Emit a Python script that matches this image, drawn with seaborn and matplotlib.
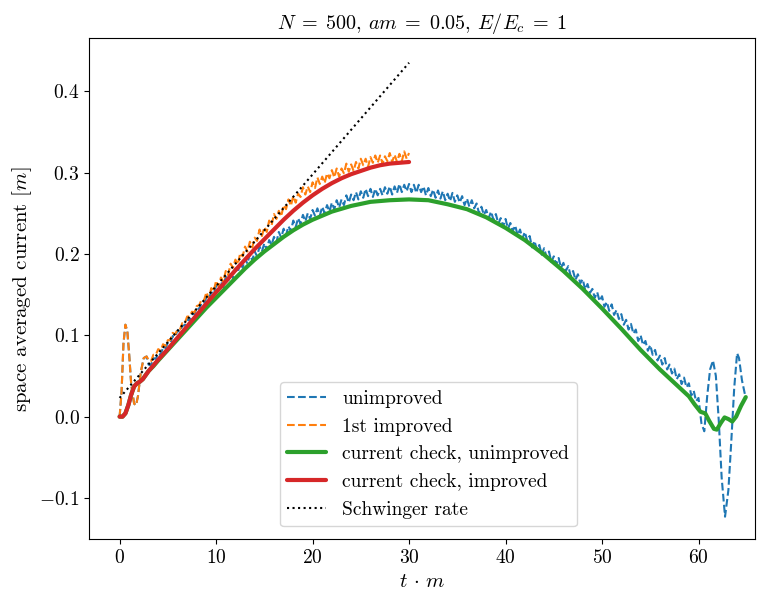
import numpy as np
import matplotlib
matplotlib.use("Agg")
import matplotlib.pyplot as plt
import seaborn as sns

# ---------------- data ----------------
# early transient (shared by the two dashed series)
t_early = [0.0, 0.2, 0.4, 0.6, 0.8, 1.0, 1.2, 1.5, 1.7, 1.9, 2.2, 2.5, 2.8]
y_early = [0.000, 0.030, 0.090, 0.113, 0.105, 0.075, 0.040, 0.016, 0.014, 0.025, 0.055, 0.072, 0.074]

# unimproved (blue dashed), t = 3.0 ... 60.0 step 0.25 (8 values = 2 time units per row)
t_unimp_mid = list(np.arange(3.0, 60.001, 0.25))
y_unimp_mid = [
    0.064, 0.063, 0.072, 0.071, 0.078, 0.076, 0.085, 0.084,
    0.091, 0.090, 0.099, 0.098, 0.106, 0.104, 0.112, 0.112,
    0.120, 0.118, 0.126, 0.126, 0.134, 0.132, 0.140, 0.139,
    0.147, 0.145, 0.153, 0.151, 0.161, 0.155, 0.166, 0.159,
    0.172, 0.166, 0.178, 0.170, 0.182, 0.177, 0.190, 0.183,
    0.194, 0.188, 0.200, 0.192, 0.203, 0.197, 0.209, 0.203,
    0.213, 0.205, 0.217, 0.211, 0.221, 0.214, 0.227, 0.220,
    0.231, 0.223, 0.234, 0.228, 0.241, 0.233, 0.244, 0.237,
    0.248, 0.240, 0.250, 0.243, 0.254, 0.247, 0.256, 0.247,
    0.258, 0.250, 0.260, 0.252, 0.263, 0.255, 0.266, 0.257,
    0.267, 0.260, 0.272, 0.263, 0.273, 0.266, 0.276, 0.267,
    0.277, 0.269, 0.280, 0.271, 0.280, 0.270, 0.280, 0.272,
    0.280, 0.272, 0.282, 0.274, 0.283, 0.273, 0.283, 0.275,
    0.286, 0.276, 0.285, 0.277, 0.286, 0.276, 0.285, 0.275,
    0.285, 0.276, 0.283, 0.272, 0.281, 0.271, 0.279, 0.269,
    0.278, 0.268, 0.277, 0.266, 0.274, 0.265, 0.275, 0.264,
    0.272, 0.263, 0.271, 0.260, 0.268, 0.258, 0.266, 0.256,
    0.262, 0.250, 0.258, 0.248, 0.254, 0.244, 0.252, 0.242,
    0.249, 0.237, 0.244, 0.234, 0.243, 0.231, 0.238, 0.228,
    0.235, 0.223, 0.230, 0.219, 0.227, 0.216, 0.222, 0.208,
    0.216, 0.205, 0.211, 0.199, 0.207, 0.196, 0.203, 0.190,
    0.197, 0.187, 0.195, 0.183, 0.189, 0.179, 0.185, 0.173,
    0.179, 0.168, 0.175, 0.164, 0.169, 0.156, 0.163, 0.152,
    0.157, 0.146, 0.153, 0.142, 0.148, 0.135, 0.141, 0.130,
    0.138, 0.125, 0.131, 0.120, 0.126, 0.113, 0.119, 0.107,
    0.114, 0.102, 0.107, 0.093, 0.100, 0.088, 0.093, 0.081,
    0.088, 0.076, 0.082, 0.069, 0.075, 0.064, 0.072, 0.058,
    0.064, 0.053, 0.059, 0.046, 0.052, 0.040, 0.048, 0.036,
    0.041, 0.026, 0.032, 0.019, 0.023,
]
t_unimp_tail = [60.3, 60.6, 60.9, 61.2, 61.5, 61.8, 62.1, 62.4, 62.75, 63.1,
                63.4, 63.7, 64.0, 64.2, 64.5, 64.8]
y_unimp_tail = [-0.008, -0.018, 0.025, 0.058, 0.069, 0.050, -0.005, -0.075, -0.123, -0.090,
                -0.030, 0.035, 0.078, 0.072, 0.045, 0.028]

# 1st improved (orange dashed), t = 3.0 ... 30.0 step 0.25
t_imp_mid = list(np.arange(3.0, 30.001, 0.25))
y_imp_mid = [
    0.070, 0.068, 0.076, 0.076, 0.083, 0.081, 0.089, 0.087,
    0.094, 0.094, 0.103, 0.101, 0.107, 0.107, 0.115, 0.115,
    0.123, 0.123, 0.129, 0.128, 0.136, 0.137, 0.144, 0.143,
    0.153, 0.145, 0.158, 0.154, 0.167, 0.160, 0.171, 0.166,
    0.179, 0.174, 0.188, 0.183, 0.193, 0.187, 0.201, 0.197,
    0.209, 0.203, 0.215, 0.208, 0.220, 0.216, 0.230, 0.222,
    0.233, 0.227, 0.241, 0.235, 0.249, 0.243, 0.253, 0.246,
    0.260, 0.255, 0.267, 0.259, 0.271, 0.263, 0.274, 0.270,
    0.282, 0.273, 0.283, 0.276, 0.288, 0.281, 0.294, 0.286,
    0.295, 0.287, 0.299, 0.293, 0.303, 0.294, 0.305, 0.295,
    0.305, 0.299, 0.311, 0.301, 0.310, 0.302, 0.313, 0.305,
    0.317, 0.309, 0.317, 0.307, 0.319, 0.312, 0.321, 0.312,
    0.321, 0.311, 0.320, 0.314, 0.324, 0.313, 0.322, 0.313,
    0.323, 0.314, 0.326, 0.317, 0.324,
]

# current check, improved (red)
t_cc_imp = [0.0, 0.3, 0.6, 0.9, 1.2, 1.5, 1.8, 2.1, 2.4, 2.7, 3.0, 3.5, 4, 5, 6, 7, 8, 9, 10,
            11, 12, 13, 14, 15, 16, 17, 18, 19, 20, 21, 22, 23, 24, 25, 26, 27, 28, 29, 30]
y_cc_imp = [0.000, 0.000, 0.004, 0.014, 0.027, 0.037, 0.041, 0.043, 0.046, 0.051, 0.056, 0.063,
            0.070, 0.083, 0.097, 0.111, 0.125, 0.139, 0.153, 0.166, 0.180, 0.193, 0.206, 0.218,
            0.230, 0.242, 0.253, 0.263, 0.272, 0.280, 0.287, 0.293, 0.298, 0.302, 0.306, 0.309,
            0.311, 0.312, 0.313]

# current check, unimproved (green)
t_cc_unimp = [0.0, 0.3, 0.6, 0.9, 1.2, 1.5, 1.8, 2.1, 2.4, 2.7, 3.0, 3.5, 4, 5, 6, 7, 8, 9, 10,
              11, 12, 13, 14, 15, 16, 17, 18, 19, 20, 22, 24, 26, 28, 30, 32, 34, 36, 38, 40,
              42, 44, 46, 48, 50, 52, 54, 56, 58, 59, 59.6, 60.2, 60.7, 61.1, 61.6, 61.9, 62.3,
              62.7, 63.1, 63.5, 63.9, 64.4, 64.9]
y_cc_unimp = [0.000, 0.000, 0.004, 0.014, 0.027, 0.037, 0.041, 0.043, 0.046, 0.051, 0.056, 0.062,
              0.069, 0.082, 0.095, 0.108, 0.121, 0.134, 0.146, 0.158, 0.170, 0.182, 0.193, 0.203,
              0.212, 0.221, 0.229, 0.236, 0.242, 0.252, 0.259, 0.264, 0.266, 0.267, 0.266, 0.261,
              0.255, 0.245, 0.232, 0.217, 0.199, 0.179, 0.157, 0.133, 0.108, 0.082, 0.058, 0.036,
              0.025, 0.015, 0.006, 0.004, -0.005, -0.015, -0.016, -0.008, -0.001, -0.003, -0.006,
              0.000, 0.013, 0.024]

# Schwinger rate (black dotted)
t_schw = [0.0, 30.0]
y_schw = [0.023, 0.435]

t_unimp = t_early + t_unimp_mid + t_unimp_tail
y_unimp = y_early + y_unimp_mid + y_unimp_tail
t_imp = t_early + t_imp_mid
y_imp = y_early + y_imp_mid

labels = ["unimproved", "1st improved", "current check, unimproved",
          "current check, improved", "Schwinger rate"]

# ---------------- style ----------------
sns.set_theme(style="ticks")
plt.rcParams.update({
    "font.family": ["cmr10", "DejaVu Serif"],
    "mathtext.fontset": "cm",
    "axes.formatter.use_mathtext": True,
    "axes.unicode_minus": True,
    "font.size": 14,
    "axes.labelsize": 15,
    "axes.titlesize": 14.5,
    "xtick.labelsize": 14,
    "ytick.labelsize": 14,
    "legend.fontsize": 14,
    "axes.edgecolor": "black",
    "axes.linewidth": 0.8,
    "xtick.color": "black",
    "ytick.color": "black",
    "xtick.major.size": 3.5,
    "ytick.major.size": 3.5,
    "xtick.major.width": 0.8,
    "ytick.major.width": 0.8,
    "text.color": "black",
    "axes.labelcolor": "black",
})

fig = plt.figure(figsize=(7.68, 5.95), dpi=100)
ax = fig.add_axes([0.1163, 0.0933, 0.983 - 0.1163, 0.9356 - 0.0933])

sns.lineplot(x=t_unimp, y=y_unimp, ax=ax, color="#1f77b4", linestyle="--",
             linewidth=1.5, label=labels[0], sort=False)
sns.lineplot(x=t_imp, y=y_imp, ax=ax, color="#ff7f0e", linestyle="--",
             linewidth=1.5, label=labels[1], sort=False)
sns.lineplot(x=t_cc_unimp, y=y_cc_unimp, ax=ax, color="#2ca02c", linestyle="-",
             linewidth=3.0, label=labels[2], sort=False)
sns.lineplot(x=t_cc_imp, y=y_cc_imp, ax=ax, color="#d62728", linestyle="-",
             linewidth=3.0, label=labels[3], sort=False)
sns.lineplot(x=t_schw, y=y_schw, ax=ax, color="black", linestyle=":",
             linewidth=1.5, label=labels[4], sort=False)

ax.set_xlim(-3.14, 65.85)
ax.set_ylim(-0.151, 0.465)
ax.set_xticks([0, 10, 20, 30, 40, 50, 60])
ax.set_yticks([-0.1, 0.0, 0.1, 0.2, 0.3, 0.4])
ax.set_xlabel(r"$t \,\cdot\, m$")
ax.set_ylabel(r"space averaged current $[m]$")
ax.set_title(r"$N\;=\;500$, $am\;=\;0.05$, $E/E_c\;=\;1$", pad=7)
for s in ax.spines.values():
    s.set_visible(True)

ax.legend(loc="lower center", bbox_to_anchor=(0.509, 0.026), borderaxespad=0.0,
          frameon=True, framealpha=0.8, edgecolor="#cccccc", fancybox=True)

fig.savefig("out.png", dpi=100)
